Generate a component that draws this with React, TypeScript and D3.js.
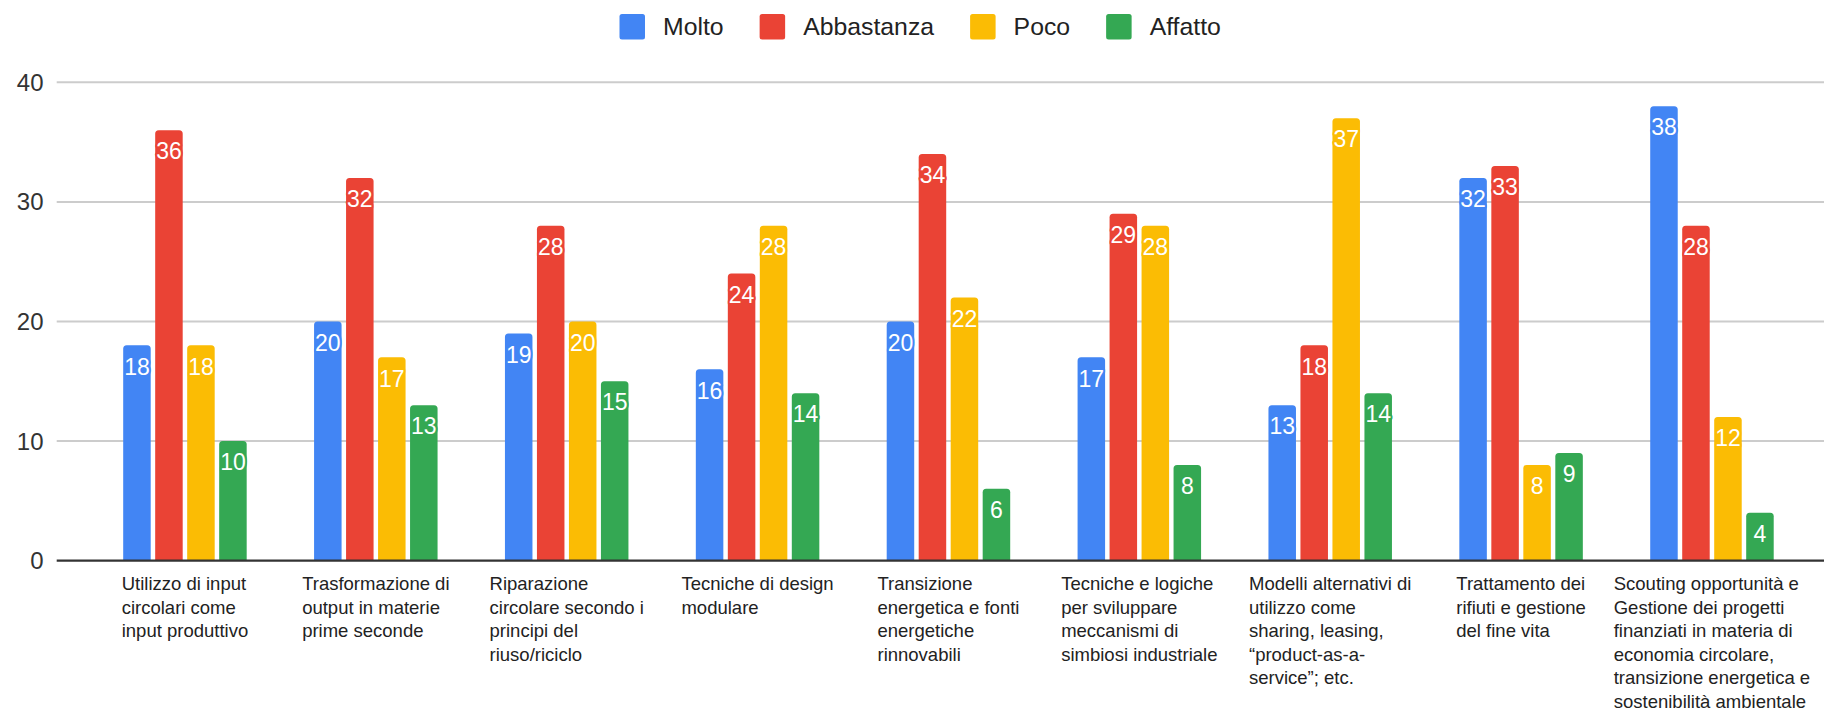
import React from 'react';
import * as d3 from 'd3';

const categories: string[][] = [
  ['Utilizzo di input', 'circolari come', 'input produttivo'],
  ['Trasformazione di', 'output in materie', 'prime seconde'],
  ['Riparazione', 'circolare secondo i', 'principi del', 'riuso/riciclo'],
  ['Tecniche di design', 'modulare'],
  ['Transizione', 'energetica e fonti', 'energetiche', 'rinnovabili'],
  ['Tecniche e logiche', 'per sviluppare', 'meccanismi di', 'simbiosi industriale'],
  ['Modelli alternativi di', 'utilizzo come', 'sharing, leasing,', '\u201cproduct-as-a-', 'service\u201d; etc.'],
  ['Trattamento dei', 'rifiuti e gestione', 'del fine vita'],
  ['Scouting opportunit\u00e0 e', 'Gestione dei progetti', 'finanziati in materia di', 'economia circolare,', 'transizione energetica e', 'sostenibilit\u00e0 ambientale'],
];

const series = ['Molto', 'Abbastanza', 'Poco', 'Affatto'];
const colors = ['#4285F4', '#EA4335', '#FBBC04', '#34A853'];

const molto = [18, 20, 19, 16, 20, 17, 13, 32, 38];
const abbastanza = [36, 32, 28, 24, 34, 29, 18, 33, 28];
const poco = [18, 17, 20, 28, 22, 28, 37, 8, 12];
const affatto = [10, 13, 15, 14, 6, 8, 14, 9, 4];
const values = [molto, abbastanza, poco, affatto];

const yTicks = [0, 10, 20, 30, 40];

const W = 1824;
const H = 713;
const FONT = "Arial, 'Liberation Sans', sans-serif";

let ctx: CanvasRenderingContext2D | null = null;
function measure(text: string, size: number): number {
  if (!ctx) ctx = document.createElement('canvas').getContext('2d');
  if (!ctx) return text.length * size * 0.5;
  ctx.font = `${size}px ${FONT}`;
  return ctx.measureText(text).width;
}

function barPath(x: number, yTop: number, w: number, yBase: number, r: number) {
  const rr = Math.min(r, (yBase - yTop) / 2, w / 2);
  return `M${x},${yBase}V${yTop + rr}Q${x},${yTop} ${x + rr},${yTop}H${x + w - rr}Q${x + w},${yTop} ${x + w},${yTop + rr}V${yBase}Z`;
}

export default function App() {
  React.useEffect(() => {
    document.body.style.margin = '0';
  }, []);

  const plotLeft = 56.7;
  const x0 = d3.scaleBand<number>().domain(d3.range(categories.length)).range([89.5, 1807.4]).padding(0);
  const x1 = d3.scaleBand<string>().domain(series).range([-61.75, 61.75]).paddingInner(0.14);
  const y = d3.scaleLinear().domain([0, 40]).range([560.6, 82.3]);

  const axisSize = 24;
  const labelSize = 23;
  const catSize = 18.5;
  const legendSize = 24.8;

  const legendItems: { x: number; tx: number; name: string; color: string }[] = [];
  let lx = 619.5;
  series.forEach((s, i) => {
    legendItems.push({ x: lx, tx: lx + 25.5 + 18, name: s, color: colors[i] });
    lx += 25.5 + 18 + measure(s, legendSize) + 36;
  });

  return (
    <svg width={W} height={H} style={{ display: 'block', background: '#fff' }} fontFamily={FONT}>
      <g>
        {legendItems.map((it) => (
          <g key={it.name}>
            <rect x={it.x} y={14} width={25.5} height={25.5} rx={2.5} fill={it.color} />
            <text x={it.tx} y={35} fontSize={legendSize} fill="#222">{it.name}</text>
          </g>
        ))}
      </g>

      {yTicks.filter((t) => t !== 0).map((t) => (
        <line key={t} x1={plotLeft} x2={W} y1={y(t)} y2={y(t)} stroke="#cccccc" strokeWidth={2} />
      ))}

      {yTicks.map((t) => (
        <text key={t} x={43.5} y={y(t) + axisSize * 0.358} textAnchor="end" fontSize={axisSize} fill="#333">{t}</text>
      ))}

      {categories.map((_, ci) => (
        <g key={ci} transform={`translate(${x0(ci)! + x0.bandwidth() / 2},0)`}>
          {series.map((s, si) => {
            const v = values[si][ci];
            const bx = x1(s)!;
            const bw = x1.bandwidth();
            const top = y(v);
            return <path key={s} d={barPath(bx, top, bw, y(0), 3.5)} fill={colors[si]} />;
          })}
        </g>
      ))}

      <line x1={plotLeft} x2={W} y1={y(0)} y2={y(0)} stroke="#333" strokeWidth={2.2} />

      {categories.map((_, ci) => (
        <g key={ci} transform={`translate(${x0(ci)! + x0.bandwidth() / 2},0)`}>
          {series.map((s, si) => {
            const v = values[si][ci];
            const cx = x1(s)! + x1.bandwidth() / 2;
            const top = y(v);
            const cy = Math.min(top + 21, (top + y(0)) / 2);
            return (
              <text
                key={s}
                x={cx}
                y={cy + labelSize * 0.358}
                textAnchor="middle"
                fontSize={labelSize}
                fill="#fff"
                stroke={colors[si]}
                strokeWidth={4}
                strokeLinejoin="round"
                paintOrder="stroke"
              >
                {v}
              </text>
            );
          })}
        </g>
      ))}

      {categories.map((lines, ci) => {
        const cx = x0(ci)! + x0.bandwidth() / 2;
        const maxW = d3.max(lines, (l) => measure(l, catSize)) || 0;
        const left = cx - maxW / 2;
        return (
          <text key={ci} fontSize={catSize} fill="#222">
            {lines.map((l, li) => (
              <tspan key={li} x={left} y={590 + li * 23.6}>{l}</tspan>
            ))}
          </text>
        );
      })}
    </svg>
  );
}
